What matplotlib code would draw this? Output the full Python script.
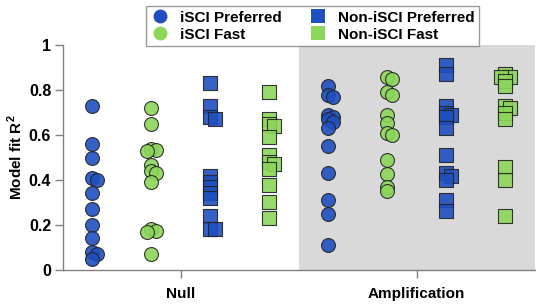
import matplotlib.pyplot as plt
import numpy as np
from matplotlib.lines import Line2D

plt.rcParams['font.family'] = ['Liberation Sans', 'DejaVu Sans']
plt.rcParams['font.weight'] = 'bold'
plt.rcParams['mathtext.fontset'] = 'custom'
plt.rcParams['mathtext.rm'] = 'Liberation Sans'
plt.rcParams['mathtext.bf'] = 'Liberation Sans:bold'

# 数据
conditions = ['Null', 'Amplification']
series_names = ['iSCI Preferred', 'iSCI Fast', 'Non-iSCI Preferred', 'Non-iSCI Fast']

null_isci_pref = [0.73, 0.56, 0.50, 0.41, 0.40, 0.34, 0.27, 0.20, 0.14, 0.08, 0.07, 0.05]
null_isci_fast = [0.72, 0.65, 0.54, 0.535, 0.53, 0.465, 0.44, 0.43, 0.39, 0.18, 0.175, 0.17, 0.07]
null_non_pref = [0.83, 0.73, 0.68, 0.67, 0.42, 0.39, 0.37, 0.34, 0.32, 0.24, 0.18, 0.18]
null_non_fast = [0.79, 0.67, 0.65, 0.64, 0.59, 0.51, 0.48, 0.47, 0.45, 0.38, 0.30, 0.23]

amp_isci_pref = [0.82, 0.78, 0.77, 0.69, 0.68, 0.67, 0.66, 0.63, 0.55, 0.43, 0.31, 0.25, 0.11]
amp_isci_fast = [0.86, 0.85, 0.79, 0.78, 0.69, 0.655, 0.61, 0.60, 0.49, 0.425, 0.37, 0.35]
amp_non_pref = [0.91, 0.87, 0.73, 0.70, 0.69, 0.68, 0.63, 0.51, 0.43, 0.42, 0.40, 0.31, 0.26]
amp_non_fast = [0.87, 0.86, 0.86, 0.84, 0.82, 0.73, 0.72, 0.70, 0.67, 0.46, 0.40, 0.24]

data = {
    'Null': [null_isci_pref, null_isci_fast, null_non_pref, null_non_fast],
    'Amplification': [amp_isci_pref, amp_isci_fast, amp_non_pref, amp_non_fast],
}

blue = '#1f4fbf'
green = '#8cd65a'
colors = [blue, green, blue, green]
markers = ['o', 'o', 's', 's']
sizes = [100, 100, 88, 88]
offsets = [-0.375, -0.125, 0.125, 0.375]

# 像素换算 (x: 236 px / 单位, y: 225 px / 单位)
PX_X = 1 / 236
PX_Y = 1 / 225


def jitter(values, min_dist=4.5, step=4.5):
    # 贪心: 与已放置的点太近时左右错开
    vals = np.array(values)
    order = np.argsort(-vals)
    placed = []
    out = np.zeros(len(vals))
    cands = [0, 1, -1, 2, -2, 3, -3]
    for idx in order:
        y = vals[idx] / PX_Y
        for c in cands:
            x = c * step
            if all(np.hypot(x - px, y - py) >= min_dist for px, py in placed):
                break
        placed.append((x, y))
        out[idx] = x * PX_X
    return out


fig = plt.figure(figsize=(5.36, 3.05), dpi=100)
ax = fig.add_axes([0.1175, 0.115, 0.88, 0.737])

ax.axvspan(1, 2, color='#d9d9d9', zorder=0, lw=0)

for ci, cond in enumerate(conditions):
    for si, vals in enumerate(data[cond]):
        x = ci + 0.5 + offsets[si] + jitter(vals)
        ax.scatter(x, vals, s=sizes[si], marker=markers[si], color=colors[si],
                   edgecolor='#222222', linewidth=0.8, alpha=0.9, zorder=3)

ax.set_xlim(0, 2)
ax.set_ylim(0, 1)
ax.set_xticks([0.5, 1.5])
ax.set_xticklabels(conditions, fontsize=11, fontweight='bold')
ax.set_yticks([0, 0.2, 0.4, 0.6, 0.8, 1])
ax.set_yticklabels(['0', '0.2', '0.4', '0.6', '0.8', '1'], fontsize=11.5, fontweight='bold')
ax.tick_params(axis='both', color='#808080', length=5.5, width=1)
ax.tick_params(axis='x', pad=7)
ax.tick_params(axis='y', pad=3)
ax.set_ylabel(r'Model fit R$^{\mathbf{2}}$', fontsize=11, fontweight='bold', labelpad=3)

for side in ['top', 'right']:
    ax.spines[side].set_visible(False)
for side in ['left', 'bottom']:
    ax.spines[side].set_color('#808080')
    ax.spines[side].set_linewidth(1)

handles = [Line2D([], [], marker=m, color=c, linestyle='none', markersize=10, markeredgewidth=0)
           for m, c in zip(markers, colors)]
leg = fig.legend(handles, series_names, loc='upper center', bbox_to_anchor=(0.583, 1.005),
                 ncol=2, frameon=True, fancybox=False, edgecolor='#808080',
                 prop={'weight': 'bold', 'size': 11}, handletextpad=0.7,
                 columnspacing=1.8, borderpad=0.3, labelspacing=0.2, handlelength=1.2)
leg.get_frame().set_linewidth(1)

plt.savefig('out.png', dpi=100)
